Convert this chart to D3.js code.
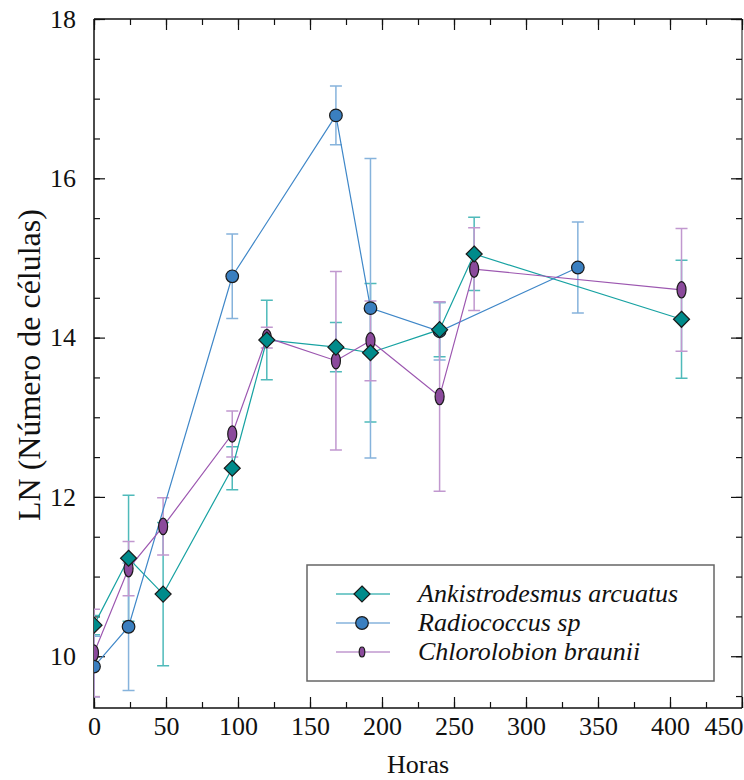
<!DOCTYPE html>
<html>
<head>
<meta charset="utf-8">
<script src="https://cdn.jsdelivr.net/npm/d3@7"></script>
<style>
  body { margin: 0; background: #fff; }
  svg text { font-family: "Liberation Serif", "Times New Roman", serif; fill: #111; }
</style>
</head>
<body>
<svg id="chart" width="744" height="780"></svg>
<script>
// data (hours, mean LN, error)
var ankHours = [0, 24, 48, 96, 120, 168, 192, 240, 264, 408];
var ankMean  = [10.39, 11.23, 10.78, 12.36, 13.97, 13.88, 13.81, 14.10, 15.05, 14.23];
var ankErr   = [0.12, 0.79, 0.90, 0.27, 0.50, 0.31, 0.87, 0.34, 0.46, 0.74];

var radHours = [0, 24, 96, 168, 192, 240, 336];
var radMean  = [9.87, 10.37, 14.77, 16.79, 14.37, 14.08, 14.88];
var radErr   = [0.38, 0.80, 0.53, 0.37, 1.88, 0.36, 0.57];

var chlHours = [0, 24, 48, 96, 120, 168, 192, 240, 264, 408];
var chlMean  = [10.04, 11.10, 11.63, 12.79, 14.00, 13.71, 13.96, 13.26, 14.86, 14.60];
var chlErr   = [0.55, 0.34, 0.36, 0.29, 0.13, 1.12, 0.50, 1.19, 0.52, 0.77];

var seriesNames = ["Ankistrodesmus arcuatus", "Radiococcus sp", "Chlorolobion braunii"];
var xTicks = [0, 50, 100, 150, 200, 250, 300, 350, 400, 450];
var yTicks = [10, 12, 14, 16, 18];

// plot box (note: "top" is reserved on window, so use pTop etc.)
var pLeft = 94, pRight = 742, pTop = 19, pBottom = 708;

var svg = d3.select("#chart");

var x = d3.scaleLinear().domain([0, 450]).range([pLeft, pRight]);
var y = d3.scaleLinear().domain([9.35, 18]).range([pBottom, pTop]);

function pack(h, m, e) {
    return h.map(function(d, i){ return {x: d, y: m[i], e: e[i]}; });
}

var series = [
    {name: seriesNames[0], data: pack(ankHours, ankMean, ankErr), fill: "#008b8b", line: "#17a2a2", err: "#4fbaba", shape: "diamond"},
    {name: seriesNames[1], data: pack(radHours, radMean, radErr), fill: "#3a7fc0", line: "#3f87c8", err: "#86b3dc", shape: "circle"},
    {name: seriesNames[2], data: pack(chlHours, chlMean, chlErr), fill: "#8b4a9c", line: "#9c57b0", err: "#c198cf", shape: "ellipse"}
];

svg.append("defs").append("clipPath").attr("id", "plotclip")
  .append("rect").attr("x", pLeft).attr("y", pTop)
  .attr("width", pRight - pLeft).attr("height", pBottom - pTop);

// axes, ticks pointing inward on all four sides
var minorX = d3.range(0, 451, 25), minorY = d3.range(9.5, 18.01, 0.5);

function axisGroup(axis, tx, ty) {
    var g = svg.append("g").attr("transform", "translate(" + tx + "," + ty + ")").call(axis);
    g.select(".domain").remove();
    g.selectAll("line").attr("stroke", "#111").attr("stroke-width", 1.2);
    return g;
}

axisGroup(d3.axisBottom(x).tickValues(minorX).tickSize(-6).tickFormat(""), 0, pBottom);
axisGroup(d3.axisTop(x).tickValues(minorX).tickSize(-6).tickFormat(""), 0, pTop);
axisGroup(d3.axisLeft(y).tickValues(minorY).tickSize(-6).tickFormat(""), pLeft, 0);
axisGroup(d3.axisRight(y).tickValues(minorY).tickSize(-6).tickFormat(""), pRight, 0);

var xb = axisGroup(d3.axisBottom(x).tickValues(xTicks).tickSize(-11).tickPadding(14).tickFormat(d3.format("d")), 0, pBottom);
axisGroup(d3.axisTop(x).tickValues(xTicks).tickSize(-11).tickFormat(""), 0, pTop);
var yl = axisGroup(d3.axisLeft(y).tickValues(yTicks).tickSize(-11).tickPadding(18).tickFormat(d3.format("d")), pLeft, 0);
axisGroup(d3.axisRight(y).tickValues(yTicks).tickSize(-11).tickFormat(""), pRight, 0);

xb.selectAll("text").attr("font-size", 26).attr("font-family", "Liberation Serif").attr("fill", "#111").attr("dy", "0.5em");
xb.selectAll("text").filter(function(d){ return d === 450; }).attr("text-anchor", "end").attr("dx", 1);
yl.selectAll("text").attr("font-size", 26).attr("font-family", "Liberation Serif").attr("fill", "#111");

// frame
svg.append("path")
  .attr("d", "M" + pLeft + "," + pTop + "H" + pRight + "M" + pLeft + "," + pTop + "V" + pBottom + "H" + pRight)
  .attr("fill", "none").attr("stroke", "#111").attr("stroke-width", 1.5);
svg.append("line").attr("x1", pRight).attr("x2", pRight).attr("y1", pTop).attr("y2", pBottom)
  .attr("stroke", "#111").attr("stroke-width", 1);

svg.append("text").attr("x", (pLeft + pRight) / 2).attr("y", 773)
  .attr("text-anchor", "middle").attr("font-size", 26).text("Horas");
svg.append("text").attr("transform", "translate(40,365) rotate(-90)")
  .attr("text-anchor", "middle").attr("font-size", 32).text("LN (Número de células)");

var plot = svg.append("g").attr("clip-path", "url(#plotclip)");

// error bars
series.forEach(function(s){
    var g = plot.append("g").attr("stroke", s.err).attr("stroke-width", 1.5).attr("fill", "none");
    s.data.forEach(function(d){
        var cx = x(d.x), y0 = y(d.y - d.e), y1 = y(d.y + d.e);
        g.append("path").attr("d",
            "M" + cx + "," + y0 + "V" + y1 +
            "M" + (cx - 6) + "," + y0 + "H" + (cx + 6) +
            "M" + (cx - 6) + "," + y1 + "H" + (cx + 6));
    });
});

// lines
var line = d3.line().x(function(d){ return x(d.x); }).y(function(d){ return y(d.y); });
series.forEach(function(s){
    plot.append("path").datum(s.data).attr("d", line)
      .attr("fill", "none").attr("stroke", s.line).attr("stroke-width", 1.2);
});

function drawMarker(g, shape, cx, cy, fill, small) {
    if (shape === "diamond") {
        var r = 8;
        g.append("path").attr("d", "M" + cx + "," + (cy - r) + "L" + (cx + r) + "," + cy + "L" + cx + "," + (cy + r) + "L" + (cx - r) + "," + cy + "Z")
          .attr("fill", fill).attr("stroke", "#1a1a1a").attr("stroke-width", 1.2);
    } else if (shape === "circle") {
        g.append("circle").attr("cx", cx).attr("cy", cy).attr("r", 6.3)
          .attr("fill", fill).attr("stroke", "#1a1a1a").attr("stroke-width", 1.2);
    } else {
        g.append("ellipse").attr("cx", cx).attr("cy", cy)
          .attr("rx", small ? 2.8 : 4.5).attr("ry", small ? 5 : 8.2)
          .attr("fill", fill).attr("stroke", "#1a1a1a").attr("stroke-width", 1.2);
    }
}

// markers: purple under blue under teal
[2, 1, 0].forEach(function(i){
    var s = series[i];
    s.data.forEach(function(d){ drawMarker(plot, s.shape, x(d.x), y(d.y), s.fill, false); });
});

// legend
var lg = svg.append("g");
lg.append("rect").attr("x", 307).attr("y", 565).attr("width", 407).attr("height", 116)
  .attr("fill", "#fff").attr("stroke", "#666").attr("stroke-width", 1.5);
series.forEach(function(s, i){
    var ly = 594 + i * 29;
    lg.append("line").attr("x1", 336).attr("x2", 390).attr("y1", ly).attr("y2", ly)
      .attr("stroke", s.err).attr("stroke-width", 1.5);
    drawMarker(lg, s.shape, 362, ly, s.fill, true);
    lg.append("text").attr("x", 418).attr("y", ly + 8).attr("font-size", 26)
      .attr("font-style", "italic").text(s.name);
});
</script>
</body>
</html>
